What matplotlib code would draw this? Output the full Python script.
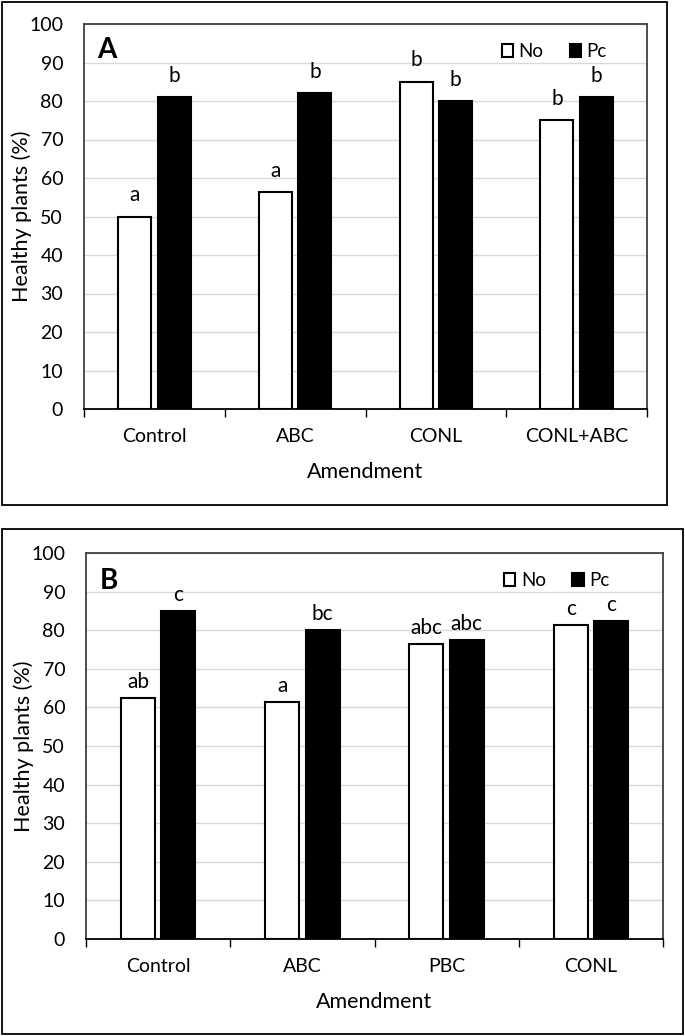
import matplotlib
matplotlib.use("Agg")
import matplotlib.pyplot as plt
from matplotlib.patches import Rectangle
import numpy as np

plt.rcParams['font.family'] = ['Lato', 'DejaVu Sans']

# Panel A data
cats_a = ["Control", "ABC", "CONL", "CONL+ABC"]
no_a = [50, 56.3, 85, 75]
pc_a = [81, 82, 80, 81]
lab_no_a = ["a", "a", "b", "b"]
lab_pc_a = ["b", "b", "b", "b"]

# Panel B data
cats_b = ["Control", "ABC", "PBC", "CONL"]
no_b = [62.5, 61.3, 76.3, 81.3]
pc_b = [85, 80, 77.5, 82.5]
lab_no_b = ["ab", "a", "abc", "c"]
lab_pc_b = ["c", "bc", "abc", "c"]

yticks = [0, 10, 20, 30, 40, 50, 60, 70, 80, 90, 100]

W, H = 685, 1036
fig = plt.figure(figsize=(W / 100, H / 100), dpi=100)

def fx(px):
    return px / W

def fy(py):
    return 1 - py / H

# outer frames
for (x0, y0, x1, y1) in [(2, 2, 667, 505), (2, 529, 683, 1034)]:
    fig.patches.append(Rectangle((fx(x0), fy(y1)), fx(x1) - fx(x0), fy(y0) - fy(y1),
                                 transform=fig.transFigure, fill=False,
                                 edgecolor='black', linewidth=1.3))

def panel(rect, cats, no, pc, lab_no, lab_pc, letter, lab_off, leg_x, let_y):
    x0, y0, x1, y1 = rect
    ax = fig.add_axes([fx(x0), fy(y1), fx(x1) - fx(x0), fy(y0) - fy(y1)])
    n = len(cats)
    x = np.arange(n)
    w = 0.235
    off = 0.14
    ax.bar(x - off, no, w, color='white', edgecolor='black', linewidth=1.5, zorder=3,
           label='No')
    ax.bar(x + off, pc, w, color='black', edgecolor='black', linewidth=1.5, zorder=3,
           label='Pc')
    for xi, v, t in zip(x - off, no, lab_no):
        ax.text(xi, v + lab_off, t, ha='center', va='baseline', fontsize=15)
    for xi, v, t in zip(x + off, pc, lab_pc):
        ax.text(xi, v + lab_off, t, ha='center', va='baseline', fontsize=15)
    ax.set_xlim(-0.5, n - 0.5)
    ax.set_ylim(0, 100)
    ax.set_yticks(yticks)
    ax.set_yticklabels([str(t) for t in yticks], fontsize=14)
    ax.yaxis.grid(True, color='#d9d9d9', linewidth=1, zorder=0)
    ax.set_axisbelow(True)
    ax.tick_params(axis='y', length=0, pad=15)
    ax.set_xticks(np.arange(-0.5, n, 1.0))
    ax.set_xticklabels([])
    ax.set_xticks(x, minor=True)
    ax.set_xticklabels(cats, minor=True, fontsize=14)
    ax.tick_params(axis='x', which='major', length=6, width=1, direction='out', color='black')
    ax.tick_params(axis='x', which='minor', length=0, pad=14)
    for s in ['top', 'right', 'left']:
        ax.spines[s].set_color('#404040')
        ax.spines[s].set_linewidth(1.3)
    ax.spines['bottom'].set_color('black')
    ax.spines['bottom'].set_linewidth(1.3)
    ax.set_ylabel("Healthy plants (%)", fontsize=15.5)
    ax.yaxis.set_label_coords(-52 / (x1 - x0), 0.5)
    ax.set_xlabel("Amendment", fontsize=15.5, labelpad=12)
    ax.text(0.024, let_y, letter, transform=ax.transAxes, fontsize=20,
            fontweight='bold', ha='left', va='top')
    # legend
    ax.legend(loc='upper right', bbox_to_anchor=(leg_x, 0.985), ncol=2,
              frameon=False, fontsize=13.5, handlelength=0.6, handleheight=0.7,
              handletextpad=0.3, columnspacing=1.4, borderpad=0.2)
    return ax

panel((84, 24, 647, 409), cats_a, no_a, pc_a, lab_no_a, lab_pc_a, "A", 4.0, 0.952, 0.966)
panel((86, 553, 663, 939), cats_b, no_b, pc_b, lab_no_b, lab_pc_b, "B", 2.6, 0.93, 0.962)

fig.savefig("out.png", dpi=100)
